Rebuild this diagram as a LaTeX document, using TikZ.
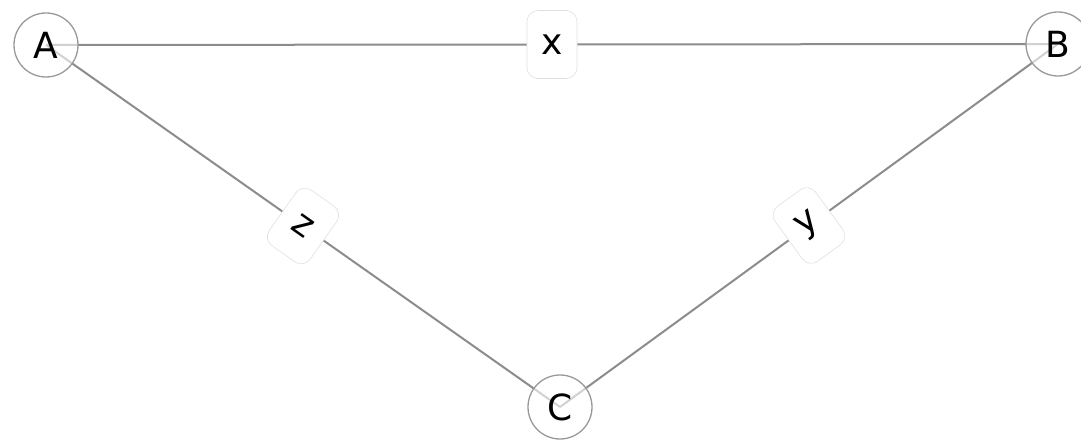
\documentclass[tikz,border=0pt]{standalone}
\usepackage{fontspec}
\setmainfont{DejaVu Sans}
\begin{document}
\begin{tikzpicture}[x=1pt,y=-1pt,
  vert/.style={circle,draw=black!40,line width=1.3pt,fill=white,fill opacity=0.6,text opacity=1,minimum size=64pt,inner sep=0pt,font=\fontsize{36}{36}\selectfont},
  edge/.style={draw=black!45,line width=2pt},
  elabel/.style={fill=white,draw=black!12,line width=0.6pt,rounded corners=11pt,minimum width=50pt,minimum height=68pt,inner sep=0pt,font=\fontsize{36}{36}\selectfont,sloped}]
\useasboundingbox (0,0) rectangle (1081,443);
\coordinate (pa) at (46,45);
\coordinate (pb) at (1058,44);
\coordinate (pc) at (560,407);
\draw[edge] (pa) -- node[elabel]{x} (pb);
\draw[edge] (pa) -- node[elabel]{z} (pc);
\draw[edge] (pc) -- node[elabel]{y} (pb);
\node[vert] (A) at (pa) {A};
\node[vert] (B) at (pb) {B};
\node[vert] (C) at (pc) {C};
\end{tikzpicture}
\end{document}
